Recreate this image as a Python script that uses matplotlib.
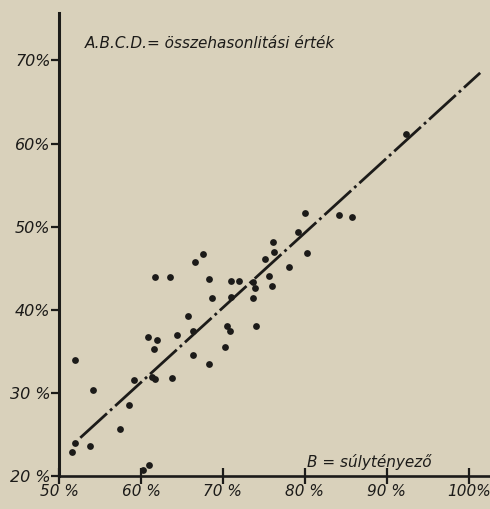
import numpy as np
import matplotlib
matplotlib.use('Agg')
import matplotlib.pyplot as plt

# B = súlytényező (x), A.B.C.D. = összehasonlitási érték (y), in %
b_vals = [51.6, 51.9, 52.0, 53.8, 54.2, 57.5, 58.6, 59.1, 60.3, 61.0,
          60.9, 61.6, 61.4, 61.7, 61.7, 62.0, 63.6, 63.8, 64.4, 65.8,
          66.3, 66.4, 66.6, 67.6, 68.3, 68.3, 68.7, 70.3, 70.5, 70.9,
          71.0, 72.0, 71.0, 73.7, 73.7, 73.9, 74.0, 75.1, 75.6, 76.0,
          76.1, 76.2, 78.1, 79.2, 80.0, 80.3, 84.2, 85.7, 92.4]
abcd_vals = [22.9, 24.0, 33.9, 23.6, 30.4, 25.7, 28.6, 31.5, 20.7, 21.3,
             36.7, 35.3, 31.9, 31.7, 44.0, 36.4, 44.0, 31.8, 37.0, 39.3,
             37.4, 34.5, 45.8, 46.7, 43.7, 33.5, 41.4, 35.5, 38.1, 37.4,
             43.5, 43.5, 41.5, 41.4, 43.3, 42.6, 38.0, 46.1, 44.1, 42.8,
             48.1, 47.0, 45.2, 49.3, 51.6, 46.8, 51.4, 51.1, 61.1]

# regression line ends
line_x = [52.6, 101.4]
line_y = [24.6, 68.5]

x_ticks = [50, 60, 70, 80, 90, 100]
x_labels = ['50 %', '60 %', '70 %', '80 %', '90 %', '100%']
y_ticks = [20, 30, 40, 50, 60, 70]
y_labels = ['20 %', '30 %', '40%', '50%', '60%', '70%']

paper = '#d9d1bb'
ink = '#1c1b19'

plt.rcParams['lines.scale_dashes'] = False
plt.rcParams['font.family'] = 'DejaVu Sans'

fig = plt.figure(figsize=(4.9, 5.09), dpi=100)
fig.patch.set_facecolor(paper)
ax = fig.add_axes([59/490, 33/509, 1 - 59/490, (476 - 13)/509])
ax.set_facecolor(paper)

ax.plot(line_x, line_y, color=ink, lw=2.0, dashes=(26, 3, 2, 3),
        solid_capstyle='butt', dash_capstyle='butt')
ax.scatter(b_vals, abcd_vals, s=24, color=ink, zorder=3, linewidths=0)

ax.set_xlim(50, 102.6)
ax.set_ylim(20.1, 75.7)

for s in ['top', 'right']:
    ax.spines[s].set_visible(False)
ax.spines['left'].set_linewidth(2.2)
ax.spines['bottom'].set_linewidth(1.9)
ax.spines['left'].set_color(ink)
ax.spines['bottom'].set_color(ink)

ax.set_xticks(x_ticks)
ax.set_xticklabels(x_labels, fontstyle='italic', fontsize=11, color=ink)
ax.set_yticks(y_ticks)
ax.set_yticklabels(y_labels, fontstyle='italic', fontsize=11.5, color=ink)
ax.tick_params(axis='x', direction='inout', length=12, width=1.6, pad=0, colors=ink)
ax.tick_params(axis='y', direction='out', length=6, width=1.6, pad=0, colors=ink)

ax.text(0.06, 0.935, 'A.B.C.D.= összehasonlitási érték', transform=ax.transAxes,
        fontstyle='italic', fontsize=11, color=ink, va='center', ha='left')
ax.text(0.575, 0.031, 'B = súlytényező', transform=ax.transAxes,
        fontstyle='italic', fontsize=11, color=ink, va='center', ha='left')

fig.savefig('out.png', dpi=100, facecolor=paper)
